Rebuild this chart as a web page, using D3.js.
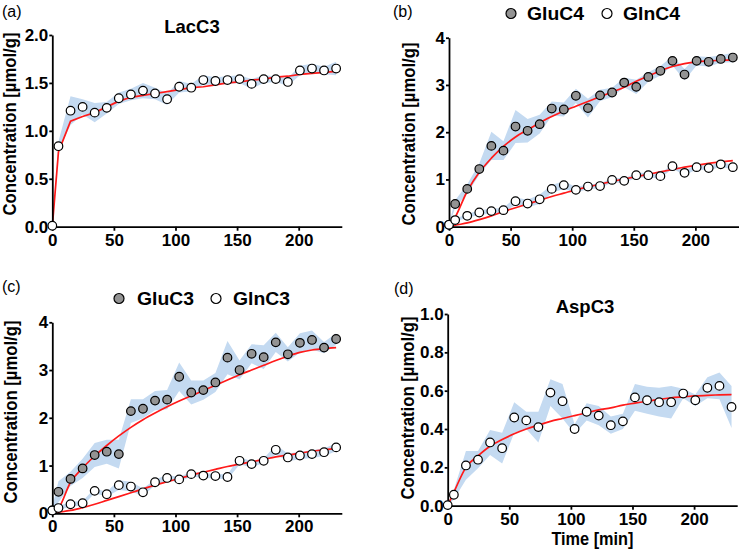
<html>
<head>
<script src="https://d3js.org/d3.v7.min.js"></script>
<style>
  body { margin: 0; background: #fff; }
  text { font-family: "Liberation Sans", Arial, sans-serif; }
</style>
</head>
<body>
<script>
// sampling times (min)
var times = [0, 5, 14.8, 24.6, 34.4, 44.2, 54, 63.8, 73.6, 83.4, 93.2, 103, 112.8,
             122.6, 132.4, 142.2, 152, 161.8, 171.6, 181.4, 191.2, 201, 210.8, 220.6, 230.4];

var xTicks = [0, 50, 100, 150, 200];

// (a) LacC3
var lacC3    = [0.01, 0.84, 1.21, 1.25, 1.19, 1.24, 1.34, 1.38, 1.42, 1.39, 1.33, 1.46, 1.45,
                1.53, 1.52, 1.53, 1.54, 1.49, 1.54, 1.54, 1.51, 1.63, 1.65, 1.63, 1.65];
var lacC3Sd  = [0.01, 0.05, 0.15, 0.08, 0.10, 0.06, 0.06, 0.06, 0.08, 0.06, 0.06, 0.06, 0.04,
                0.05, 0.04, 0.04, 0.04, 0.05, 0.04, 0.03, 0.04, 0.05, 0.05, 0.04, 0.07];
var lacC3Fit = [0, 0.78, 1.10, 1.15, 1.19, 1.25, 1.31, 1.35, 1.37, 1.39, 1.41, 1.43, 1.45,
                1.46, 1.48, 1.50, 1.51, 1.53, 1.54, 1.56, 1.57, 1.59, 1.60, 1.61, 1.62];

// (b) GluC4 / GlnC4
var gluC4    = [0.04, 0.48, 0.80, 1.22, 1.71, 1.61, 2.12, 2.03, 2.17, 2.50, 2.48, 2.77, 2.51,
                2.78, 2.84, 3.05, 2.96, 3.17, 3.30, 3.51, 3.22, 3.51, 3.49, 3.55, 3.58];
var gluC4Sd  = [0.02, 0.08, 0.10, 0.12, 0.30, 0.20, 0.35, 0.25, 0.20, 0.15, 0.15, 0.15, 0.20,
                0.12, 0.10, 0.10, 0.15, 0.10, 0.10, 0.10, 0.12, 0.10, 0.10, 0.08, 0.10];
var gluC4Fit = [0, 0.20, 0.75, 1.15, 1.45, 1.70, 1.90, 2.05, 2.20, 2.33, 2.45, 2.55, 2.65,
                2.75, 2.85, 2.95, 3.08, 3.19, 3.30, 3.39, 3.45, 3.49, 3.51, 3.52, 3.53];
var glnC4    = [0.04, 0.14, 0.23, 0.30, 0.33, 0.35, 0.54, 0.49, 0.58, 0.80, 0.88, 0.78, 0.85,
                0.86, 0.99, 0.97, 1.09, 1.09, 1.07, 1.28, 1.14, 1.26, 1.24, 1.32, 1.26];
var glnC4Sd  = [0.02, 0.03, 0.04, 0.05, 0.05, 0.05, 0.08, 0.08, 0.10, 0.08, 0.08, 0.06, 0.05,
                0.05, 0.05, 0.05, 0.05, 0.05, 0.05, 0.05, 0.05, 0.05, 0.05, 0.05, 0.05];
var glnC4Fit = [0, 0.03, 0.08, 0.15, 0.23, 0.32, 0.40, 0.48, 0.56, 0.64, 0.71, 0.78, 0.84,
                0.90, 0.96, 1.01, 1.06, 1.11, 1.16, 1.21, 1.26, 1.30, 1.34, 1.37, 1.40];

// (c) GluC3 / GlnC3
var gluC3    = [0.06, 0.45, 0.72, 0.94, 1.22, 1.29, 1.24, 2.14, 2.19, 2.36, 2.38, 2.86, 2.53,
                2.58, 2.74, 3.26, 3.00, 3.34, 3.27, 3.58, 3.33, 3.57, 3.63, 3.47, 3.65];
var gluC3Sd  = [0.08, 0.22, 0.15, 0.20, 0.25, 0.25, 0.30, 0.25, 0.20, 0.20, 0.20, 0.30, 0.25,
                0.20, 0.20, 0.35, 0.20, 0.20, 0.25, 0.20, 0.15, 0.20, 0.20, 0.12, 0.12];
var gluC3Fit = [0, 0.10, 0.65, 0.95, 1.20, 1.42, 1.62, 1.80, 1.96, 2.10, 2.23, 2.35, 2.46,
                2.57, 2.68, 2.79, 2.90, 3.00, 3.10, 3.20, 3.29, 3.37, 3.42, 3.45, 3.47];
var glnC3    = [0.06, 0.11, 0.19, 0.21, 0.47, 0.40, 0.59, 0.56, 0.44, 0.65, 0.74, 0.71, 0.82,
                0.79, 0.78, 0.76, 1.10, 1.03, 1.10, 1.33, 1.17, 1.21, 1.24, 1.28, 1.38];
var glnC3Sd  = [0.03, 0.04, 0.05, 0.05, 0.05, 0.05, 0.10, 0.10, 0.08, 0.06, 0.06, 0.05, 0.05,
                0.05, 0.05, 0.05, 0.08, 0.06, 0.05, 0.10, 0.08, 0.08, 0.08, 0.08, 0.08];
var glnC3Fit = [0, 0.02, 0.06, 0.12, 0.19, 0.27, 0.35, 0.43, 0.51, 0.59, 0.66, 0.73, 0.80,
                0.86, 0.92, 0.98, 1.03, 1.08, 1.13, 1.18, 1.22, 1.26, 1.30, 1.33, 1.36];

// (d) AspC3
var aspC3    = [0.003, 0.057, 0.21, 0.24, 0.33, 0.30, 0.46, 0.445, 0.41, 0.59, 0.545, 0.40, 0.49,
                0.47, 0.42, 0.44, 0.565, 0.55, 0.54, 0.54, 0.585, 0.55, 0.615, 0.625, 0.515];
var aspC3Sd  = [0.01, 0.025, 0.075, 0.045, 0.065, 0.08, 0.08, 0.045, 0.08, 0.07, 0.09, 0.025, 0.045,
                0.05, 0.045, 0.04, 0.07, 0.07, 0.075, 0.085, 0.025, 0.03, 0.055, 0.07, 0.11];
var aspC3Fit = [0, 0.07, 0.20, 0.26, 0.31, 0.345, 0.375, 0.40, 0.42, 0.44, 0.455, 0.47, 0.485,
                0.50, 0.51, 0.525, 0.535, 0.545, 0.555, 0.563, 0.568, 0.573, 0.576, 0.578, 0.58];

var bandColor = "#c4daf1";
var fitColor = "#ff1a1a";
var filledColor = "#939393";
var yTitle = "Concentration [\u00b5mol/g]";

var svg = d3.select("body").append("svg")
  .attr("width", 750)
  .attr("height", 559);

function drawPanel(p) {
  var x = d3.scaleLinear().domain([0, 235]).range([p.left, p.left + 289.5]);
  var y = d3.scaleLinear().domain([0, p.yMax]).range([p.bottom, p.top]);
  var g = svg.append("g");

  // shaded SD bands
  p.series.forEach(function(s) {
    var area = d3.area()
      .x(function(d, i) { return x(times[i]); })
      .y0(function(d, i) { return y(Math.max(0, d - s.sd[i])); })
      .y1(function(d, i) { return y(d + s.sd[i]); });
    g.append("path").datum(s.values)
      .attr("d", area)
      .attr("fill", bandColor);
  });

  // fitted curves
  p.series.forEach(function(s) {
    var line = d3.line()
      .x(function(d, i) { return x(times[i]); })
      .y(function(d) { return y(d); })
      .curve(p.smooth ? d3.curveMonotoneX : d3.curveLinear);
    g.append("path").datum(s.fit)
      .attr("d", line)
      .attr("fill", "none")
      .attr("stroke", fitColor)
      .attr("stroke-width", 1.7);
  });

  // axes
  var xAxis = d3.axisBottom(x).tickValues(xTicks).tickSize(4).tickSizeOuter(0).tickPadding(3);
  var yAxis = d3.axisLeft(y).tickValues(p.yTicks).tickSize(3).tickSizeOuter(0).tickPadding(1)
    .tickFormat(d3.format(p.yFormat));
  var xg = g.append("g").attr("transform", "translate(0," + p.bottom + ")").call(xAxis);
  var yg = g.append("g").attr("transform", "translate(" + p.left + ",0)").call(yAxis);
  [xg, yg].forEach(function(ax) {
    ax.select(".domain").attr("stroke-width", 1.8);
    ax.selectAll(".tick line").attr("stroke-width", 1.8);
    ax.selectAll(".tick text")
      .attr("font-size", 17)
      .attr("font-weight", "bold")
      .attr("font-family", "Liberation Sans, Arial, sans-serif")
      .attr("fill", "#000");
  });

  // data points
  p.series.forEach(function(s) {
    g.selectAll(null).data(s.values).enter().append("circle")
      .attr("cx", function(d, i) { return x(times[i]); })
      .attr("cy", function(d) { return y(d); })
      .attr("r", 4.3)
      .attr("fill", s.filled ? filledColor : "#fff")
      .attr("stroke", "#000")
      .attr("stroke-width", 1.2);
  });

  // y title
  g.append("text")
    .attr("transform", "translate(" + p.yTitleX + "," + p.yTitleY + ") rotate(-90)")
    .attr("text-anchor", "middle")
    .attr("dy", "0.35em")
    .attr("font-size", 17.5)
    .attr("font-weight", "bold")
    .attr("textLength", 183)
    .attr("lengthAdjust", "spacingAndGlyphs")
    .text(yTitle);

  // panel letter
  g.append("text")
    .attr("x", p.letterX).attr("y", p.letterY)
    .attr("font-size", 16)
    .text(p.letter);

  // title or legend
  if (p.title) {
    g.append("text")
      .attr("x", p.titleX).attr("y", p.titleY)
      .attr("text-anchor", "middle")
      .attr("font-size", 18.5)
      .attr("font-weight", "bold")
      .text(p.title);
  }
  if (p.legend) {
    p.legend.forEach(function(l) {
      g.append("circle")
        .attr("cx", l.cx).attr("cy", p.legendY - 6.5)
        .attr("r", 5)
        .attr("fill", l.filled ? filledColor : "#fff")
        .attr("stroke", "#000")
        .attr("stroke-width", 1.2);
      g.append("text")
        .attr("x", l.tx).attr("y", p.legendY)
        .attr("font-size", 18)
        .attr("font-weight", "bold")
        .attr("textLength", 57)
        .attr("lengthAdjust", "spacingAndGlyphs")
        .text(l.label);
    });
  }

  if (p.xTitle) {
    g.append("text")
      .attr("x", x(117.5)).attr("y", 545)
      .attr("text-anchor", "middle")
      .attr("font-size", 17.5)
      .attr("font-weight", "bold")
      .attr("textLength", 82)
      .attr("lengthAdjust", "spacingAndGlyphs")
      .text(p.xTitle);
  }
}

drawPanel({
  left: 52.3, top: 35, bottom: 226.7, yMax: 2,
  yTicks: [0, 0.5, 1, 1.5, 2], yFormat: ".1f", smooth: false,
  series: [{ values: lacC3, sd: lacC3Sd, fit: lacC3Fit, filled: false }],
  yTitleX: 10, yTitleY: 124,
  letter: "(a)", letterX: 2, letterY: 17,
  title: "LacC3", titleX: 192, titleY: 33
});

drawPanel({
  left: 449, top: 37.7, bottom: 226.7, yMax: 4,
  yTicks: [0, 1, 2, 3, 4], yFormat: "d", smooth: true,
  series: [{ values: gluC4, sd: gluC4Sd, fit: gluC4Fit, filled: true },
           { values: glnC4, sd: glnC4Sd, fit: glnC4Fit, filled: false }],
  yTitleX: 409, yTitleY: 134,
  letter: "(b)", letterX: 393, letterY: 17,
  legendY: 20,
  legend: [{ cx: 511, tx: 527, label: "GluC4", filled: true },
           { cx: 607, tx: 623, label: "GlnC4", filled: false }]
});

drawPanel({
  left: 52.3, top: 322.3, bottom: 513.3, yMax: 4,
  yTicks: [0, 1, 2, 3, 4], yFormat: "d", smooth: true,
  series: [{ values: gluC3, sd: gluC3Sd, fit: gluC3Fit, filled: true },
           { values: glnC3, sd: glnC3Sd, fit: glnC3Fit, filled: false }],
  yTitleX: 10.5, yTitleY: 412,
  letter: "(c)", letterX: 2, letterY: 292,
  legendY: 305,
  legend: [{ cx: 119, tx: 137, label: "GluC3", filled: true },
           { cx: 216, tx: 233, label: "GlnC3", filled: false }]
});

drawPanel({
  left: 447.7, top: 314, bottom: 505.7, yMax: 1,
  yTicks: [0, 0.2, 0.4, 0.6, 0.8, 1], yFormat: ".1f", smooth: true,
  series: [{ values: aspC3, sd: aspC3Sd, fit: aspC3Fit, filled: false }],
  yTitleX: 407.5, yTitleY: 408,
  letter: "(d)", letterX: 394, letterY: 294,
  title: "AspC3", titleX: 585, titleY: 313,
  xTitle: "Time [min]"
});
</script>
</body>
</html>
